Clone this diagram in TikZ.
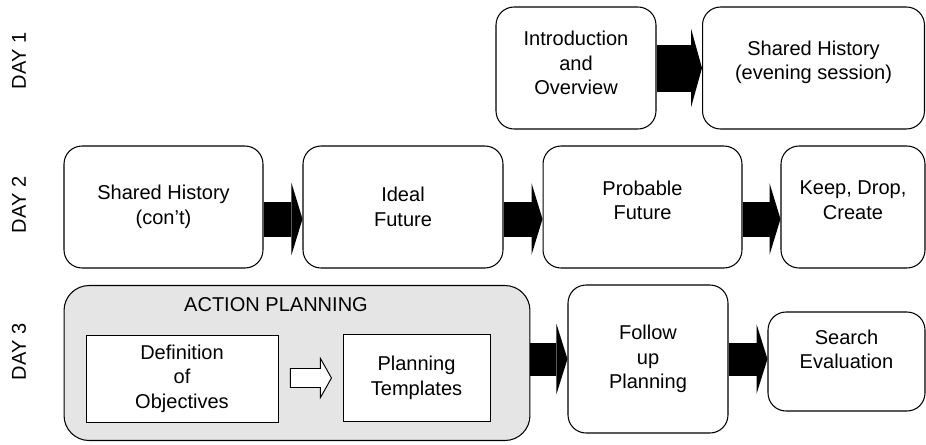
\documentclass[tikz,border=0pt]{standalone}
\usepackage{fontspec}
\setmainfont{Liberation Sans}
\usetikzlibrary{arrows.meta,calc}

\begin{document}
\begin{tikzpicture}[x=0.02cm, y=-0.02cm, font=\fontsize{11.4pt}{13.9pt}\selectfont,
  box/.style={draw, line width=0.6pt, rounded corners=0.36cm, align=center, inner sep=0pt},
  flatbox/.style={draw, line width=0.55pt, align=center, inner sep=0pt, fill=white},
  lift/.style={text depth=#1},
  bigarrow/.style 2 args={line width=#1, -{Triangle[length=0.22cm, width=#2, line width=0pt]}}]
\useasboundingbox (0,0) rectangle (926,444);
% day labels
\node[rotate=90] (d1) at (19,61) {DAY 1};
\node[rotate=90] (d2) at (19,205) {DAY 2};
\node[rotate=90] (d3) at (19,352) {DAY 3};
% day 1
\node[box, lift=0.2cm, minimum width=3.2cm, minimum height=2.44cm] (intro) at (576,68) {Introduction\\and\\Overview};
\node[box, lift=0.3cm, minimum width=4.44cm, minimum height=2.44cm] (evening) at (813.5,68) {Shared History\\(evening session)};
\draw[bigarrow={0.94cm}{1.58cm}] (intro.east) -- (evening.west);
% day 2
\node[box, minimum width=3.98cm, minimum height=2.44cm] (hist) at (163.5,207) {Shared History\\(con’t)};
\node[box, minimum width=4cm, minimum height=2.44cm] (ideal) at (403,207) {Ideal\\Future};
\node[box, lift=0.28cm, minimum width=3.98cm, minimum height=2.44cm] (probable) at (642.5,207) {Probable\\Future};
\node[box, lift=0.28cm, minimum width=2.88cm, minimum height=2.44cm] (keep) at (853,207) {Keep, Drop,\\Create};
\draw[bigarrow={0.7cm}{1.44cm}] ([yshift=-0.24cm]hist.east) -- ([yshift=-0.24cm]ideal.west);
\draw[bigarrow={0.7cm}{1.44cm}] ([yshift=-0.24cm]ideal.east) -- ([yshift=-0.24cm]probable.west);
\draw[bigarrow={0.7cm}{1.44cm}] ([yshift=-0.24cm]probable.east) -- ([yshift=-0.24cm]keep.west);
% day 3
\node[box, rounded corners=0.5cm, fill=gray!20, minimum width=9.32cm, minimum height=3.1cm] (action) at (297,363) {};
\node (actiontitle) at (276,305) {ACTION PLANNING};
\node[flatbox, minimum width=3.84cm, minimum height=1.74cm] (def) at (182,378.5) {Definition\\of\\Objectives};
\node[flatbox, minimum width=2.94cm, minimum height=1.74cm] (tmpl) at (416.5,378) {Planning\\Templates};
\draw[line width=0.55pt, fill=white] ($(def.east)+(12,-10)$) -- ++(30,0) -- ++(0,-10) -- ++(11,19.5)
  -- ++(-11,19.5) -- ++(0,-10) -- ++(-30,0) -- cycle;
\node[box, minimum width=3.2cm, minimum height=2.96cm] (follow) at (648,359) {Follow\\up\\Planning};
\node[box, lift=0.5cm, minimum width=3.14cm, minimum height=1.98cm] (search) at (846.5,361.5) {Search\\Evaluation};
\draw[bigarrow={0.66cm}{1.4cm}] (action.east |- follow.west) -- (follow.west);
\draw[bigarrow={0.66cm}{1.4cm}] (follow.east) -- (search.west |- follow.east);
\end{tikzpicture}
\end{document}
